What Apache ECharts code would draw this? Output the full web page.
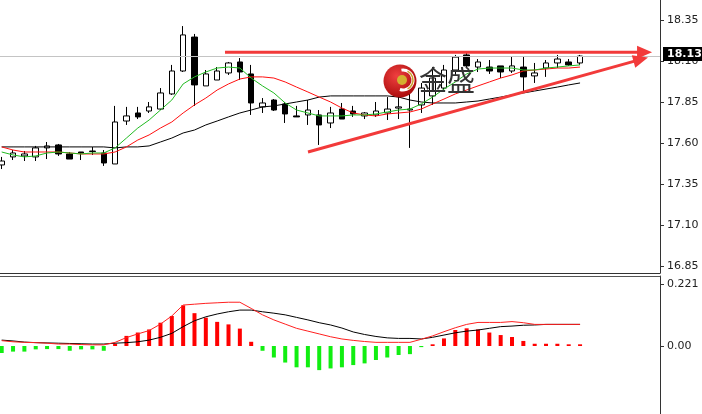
<!DOCTYPE html>
<html><head><meta charset="utf-8">
<script src="https://cdn.jsdelivr.net/npm/echarts@6/dist/echarts.min.js"></script>
<style>html,body{margin:0;padding:0;background:#fff}#c{width:702px;height:414px}</style>
</head><body><div id="c"></div>
<script>
// ---- price candles (open, close, low, high) ----
const openP = [17.466,17.515,17.521,17.515,17.570,17.588,17.533,17.545,17.551,17.539,
  17.472,17.734,17.783,17.795,17.807,17.899,18.039,18.246,17.948,17.984,
  18.027,18.094,18.021,17.820,17.862,17.838,17.765,17.771,17.771,17.722,
  17.807,17.795,17.765,17.771,17.783,17.813,17.801,17.832,17.887,17.935,
  18.045,18.137,18.063,18.063,18.070,18.039,18.063,18.009,18.057,18.088,
  18.094,18.088];
const closeP = [17.490,17.539,17.533,17.570,17.582,17.533,17.502,17.539,17.548,17.478,
  17.728,17.765,17.759,17.820,17.905,18.039,18.259,17.954,18.021,18.039,
  18.088,18.033,17.844,17.844,17.801,17.777,17.759,17.801,17.710,17.783,
  17.746,17.777,17.783,17.795,17.807,17.820,17.807,17.935,17.996,18.045,
  18.124,18.070,18.094,18.039,18.033,18.070,18.003,18.027,18.088,18.112,
  18.076,18.130];
const lowP = [17.441,17.496,17.490,17.490,17.502,17.521,17.502,17.496,17.527,17.460,
  17.472,17.710,17.746,17.783,17.801,17.893,18.033,17.826,17.948,17.984,
  18.015,17.984,17.771,17.783,17.795,17.722,17.759,17.710,17.588,17.691,
  17.746,17.759,17.746,17.759,17.740,17.746,17.570,17.783,17.832,17.911,
  18.015,18.057,18.033,18.021,17.996,18.027,17.917,17.966,18.003,18.057,
  18.070,18.076];
const highP = [17.515,17.557,17.551,17.582,17.606,17.594,17.545,17.545,17.576,17.557,
  17.826,17.820,17.820,17.850,17.935,18.076,18.313,18.265,18.045,18.063,
  18.094,18.118,18.076,17.874,17.868,17.850,17.826,17.862,17.801,17.820,
  17.844,17.826,17.789,17.850,17.880,17.923,17.923,17.966,18.063,18.076,
  18.137,18.149,18.112,18.106,18.070,18.130,18.130,18.088,18.106,18.137,
  18.112,18.137];

// ---- moving averages ----
const maFast = [17.545,17.527,17.515,17.521,17.539,17.545,17.539,17.533,17.539,17.539,
  17.570,17.630,17.691,17.740,17.801,17.862,17.960,18.003,18.033,18.057,
  18.063,18.057,17.996,17.948,17.905,17.844,17.801,17.783,17.765,17.765,
  17.765,17.771,17.771,17.777,17.789,17.801,17.807,17.838,17.880,17.929,
  17.972,18.021,18.051,18.057,18.057,18.057,18.045,18.045,18.057,18.063,
  18.070,18.076];
const maMid = [17.576,17.557,17.545,17.545,17.545,17.545,17.539,17.533,17.533,17.533,
  17.545,17.576,17.618,17.649,17.691,17.728,17.783,17.832,17.874,17.923,
  17.960,17.990,18.003,18.003,17.996,17.972,17.941,17.911,17.880,17.850,
  17.813,17.783,17.771,17.765,17.777,17.783,17.789,17.807,17.838,17.868,
  17.899,17.923,17.948,17.972,17.996,18.015,18.039,18.045,18.051,18.057,
  18.057,18.063];
const maSlow = [17.576,17.576,17.576,17.576,17.576,17.576,17.576,17.576,17.576,17.576,
  17.570,17.576,17.576,17.582,17.606,17.630,17.661,17.679,17.710,17.734,
  17.759,17.783,17.801,17.820,17.826,17.838,17.850,17.862,17.880,17.887,
  17.887,17.887,17.887,17.887,17.887,17.880,17.862,17.850,17.844,17.844,
  17.844,17.850,17.856,17.868,17.880,17.893,17.905,17.917,17.929,17.941,
  17.954,17.966];

// ---- MACD panel ----
const macdHist = [-0.025,-0.020,-0.020,-0.012,-0.011,-0.011,-0.017,-0.012,-0.012,-0.017,
  0.008,0.036,0.048,0.059,0.083,0.107,0.145,0.117,0.101,0.086,
  0.077,0.062,0.015,-0.017,-0.041,-0.059,-0.076,-0.076,-0.086,-0.080,
  -0.076,-0.068,-0.062,-0.050,-0.041,-0.032,-0.029,-0.004,0.006,0.027,
  0.057,0.063,0.059,0.048,0.039,0.032,0.018,0.008,0.008,0.008,
  0.006,0.006];
const macdLine = [0.019,0.015,0.013,0.012,0.010,0.007,0.007,0.005,0.004,0.004,
  0.013,0.030,0.043,0.055,0.078,0.107,0.146,0.149,0.152,0.154,
  0.156,0.156,0.134,0.111,0.093,0.078,0.063,0.053,0.043,0.033,
  0.025,0.020,0.016,0.013,0.013,0.013,0.013,0.024,0.036,0.051,
  0.065,0.077,0.084,0.084,0.084,0.087,0.083,0.077,0.077,0.077,
  0.077,0.077];
const signalLine = [0.021,0.018,0.014,0.012,0.011,0.010,0.009,0.008,0.007,0.007,
  0.010,0.012,0.015,0.021,0.031,0.045,0.069,0.090,0.104,0.114,
  0.122,0.128,0.128,0.122,0.117,0.111,0.102,0.093,0.083,0.075,
  0.064,0.050,0.041,0.034,0.029,0.027,0.027,0.025,0.031,0.039,
  0.047,0.053,0.057,0.063,0.069,0.071,0.074,0.075,0.077,0.077,
  0.077,0.077];

// ---- axis ticks / labels ----
const priceTicks = [16.85,17.10,17.35,17.60,17.85,18.10,18.35];
const macdTicks = [0,0.221];
const macdTickLabels = ['0.00','0.221'];
const lastPrice = 18.13;
// annotation arrows: [fromIndex, fromPrice, tipIndex, tipPrice]
const arrows = [[19.69,18.153,57.35,18.153],[27.01,17.545,56.99,18.122]];

const candles = openP.map((o,i)=>[i,o,closeP[i],lowP[i],highP[i]]);
const pair = arr => arr.map((v,i)=>[i,v]);

const AX = '#333';
const ARROW = '#f23a3a';
const labelFont = {fontFamily:'DejaVu Sans',fontSize:11,color:'#222'};
const chart = echarts.init(document.getElementById('c'),null,{renderer:'canvas'});
const xCommon = {type:'value',min:-0.15,max:58.05,splitLine:{show:false},
  axisTick:{show:false},axisLabel:{show:false}};
chart.setOption({
  animation:false,
  backgroundColor:'#fff',
  grid:[{left:0,right:42,top:0,height:273},{left:0,right:42,top:276,bottom:0}],
  xAxis:[
    Object.assign({gridIndex:0,position:'bottom',axisLine:{show:true,onZero:false,lineStyle:{color:AX,width:1}}},xCommon),
    Object.assign({gridIndex:1,position:'top',axisLine:{show:true,onZero:false,lineStyle:{color:'#555',width:1}}},xCommon)
  ],
  yAxis:[
    {gridIndex:0,type:'value',position:'right',min:16.807,max:18.472,scale:true,
     axisLine:{show:true,onZero:false,lineStyle:{color:AX}},
     axisTick:{show:true,length:4,lineStyle:{color:AX},customValues:priceTicks},
     axisLabel:Object.assign({margin:7,customValues:priceTicks,formatter:v=>v.toFixed(2)},labelFont),
     splitLine:{show:false}},
    {gridIndex:1,type:'value',position:'right',min:-0.2424,max:0.2495,
     axisLine:{show:true,onZero:false,lineStyle:{color:AX}},
     axisTick:{show:true,length:4,lineStyle:{color:AX},customValues:macdTicks},
     axisLabel:Object.assign({margin:7,customValues:macdTicks,
       formatter:v=>Math.abs(v)<1e-9?macdTickLabels[0]:macdTickLabels[1]},labelFont),
     splitLine:{show:false}}
  ],
  series:[
    {type:'candlestick',xAxisIndex:0,yAxisIndex:0,data:candles,barWidth:6,z:2,
     itemStyle:{color:'#fff',color0:'#000',borderColor:'#000',borderColor0:'#000',borderColorDoji:'#000',borderWidth:1},
     markLine:{silent:true,symbol:['none','none'],animation:false,
       lineStyle:{color:'#c4c4c4',width:1,type:'solid'},
       label:{show:true,position:'end',distance:3,offset:[0,-2],formatter:lastPrice.toFixed(2),color:'#fff',backgroundColor:'#000',
         padding:[2,6,1,4],fontFamily:'DejaVu Sans',fontSize:11,fontWeight:'bold'},
       data:[{yAxis:lastPrice}]}},
    {type:'line',xAxisIndex:0,yAxisIndex:0,data:pair(maSlow),showSymbol:false,z:3,
     lineStyle:{color:'#000',width:1}},
    {type:'line',xAxisIndex:0,yAxisIndex:0,data:pair(maMid),showSymbol:false,z:3,
     lineStyle:{color:'#ff1010',width:1}},
    {type:'line',xAxisIndex:0,yAxisIndex:0,data:pair(maFast),showSymbol:false,z:3,
     lineStyle:{color:'#22bb22',width:1}},
    {type:'custom',xAxisIndex:0,yAxisIndex:0,data:arrows,z:5,clip:false,silent:true,
     encode:{x:[0,2],y:[1,3]},
     renderItem:(params,api)=>{
       const a=api.coord([api.value(0),api.value(1)]);
       const b=api.coord([api.value(2),api.value(3)]);
       const dx=b[0]-a[0], dy=b[1]-a[1], L=Math.hypot(dx,dy), ux=dx/L, uy=dy/L;
       const hl=15, hw=6.5;
       const bx=b[0]-ux*hl, by=b[1]-uy*hl;
       return {type:'group',children:[
         {type:'line',shape:{x1:a[0],y1:a[1],x2:bx+ux*3,y2:by+uy*3},style:{stroke:ARROW,lineWidth:3}},
         {type:'polygon',shape:{points:[[b[0],b[1]],[bx-uy*hw,by+ux*hw],[bx+uy*hw,by-ux*hw]]},style:{fill:ARROW}}
       ]};
     }},
    {type:'bar',xAxisIndex:1,yAxisIndex:1,data:pair(macdHist),barWidth:4,z:2,
     itemStyle:{color:p=>p.value[1]>=0?'#ff0000':'#11ee11'}},
    {type:'line',xAxisIndex:1,yAxisIndex:1,data:pair(signalLine),showSymbol:false,z:3,
     lineStyle:{color:'#000',width:1}},
    {type:'line',xAxisIndex:1,yAxisIndex:1,data:pair(macdLine),showSymbol:false,z:3,
     lineStyle:{color:'#ff2020',width:1}}
  ],
  graphic:[
    {type:'circle',z:50,shape:{cx:400,cy:81,r:16.5},
     style:{fill:new echarts.graphic.RadialGradient(0.4,0.35,0.7,[{offset:0,color:'#f04040'},{offset:1,color:'#a80a0a'}])}},
    {type:'arc',z:51,shape:{cx:403,cy:80,r:10,startAngle:-Math.PI*0.55,endAngle:Math.PI*0.6},
     style:{stroke:'#fff',lineWidth:3,fill:null}},
    {type:'arc',z:52,shape:{cx:403,cy:80,r:10,startAngle:-Math.PI*0.35,endAngle:Math.PI*0.35},
     style:{stroke:'#c9a227',lineWidth:1.5,fill:null}},
    {type:'circle',z:52,shape:{cx:402,cy:80,r:5},style:{fill:'#d4b030'}},
    {type:'text',z:53,x:419,y:66,style:{text:'金盛',fontFamily:'Noto Sans CJK SC',fontSize:28,
      fill:'#333'}}
  ]
});
</script></body></html>
